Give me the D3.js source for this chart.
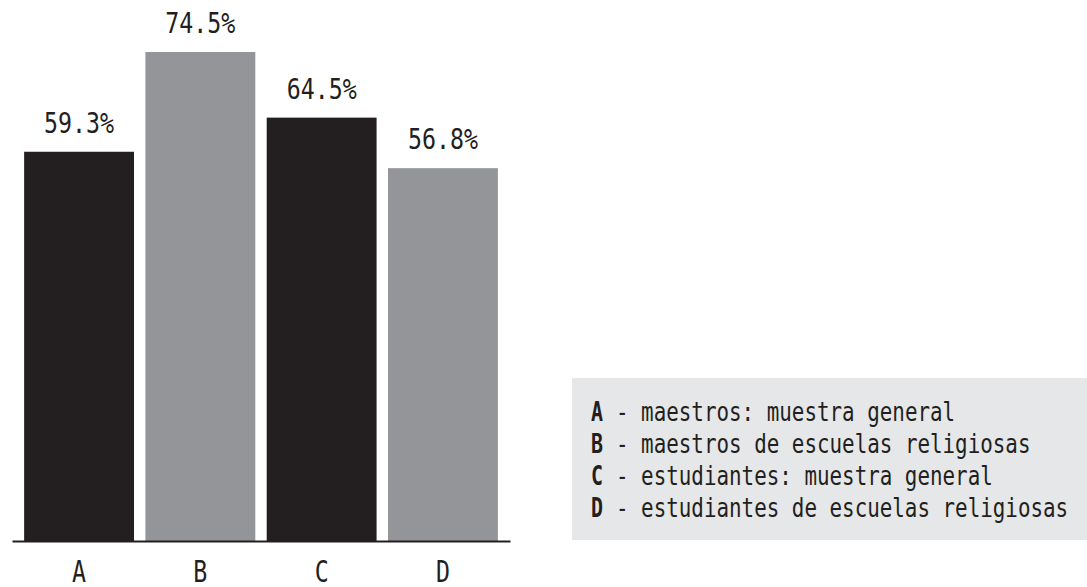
<!DOCTYPE html>
<html>
<head>
<meta charset="utf-8">
<script src="https://cdn.jsdelivr.net/npm/d3@7"></script>
<style>
  html, body { margin: 0; padding: 0; background: #ffffff; overflow: hidden; }
  svg { display: block; }
  text { font-family: "DejaVu Sans Mono", monospace; fill: #231f20; }
</style>
</head>
<body>
<svg id="chart" width="1087" height="587"></svg>
<script>
// ---- data ----
const categories = ["A", "B", "C", "D"];
const values = [59.3, 74.5, 64.5, 56.8];
const valueLabels = ["59.3%", "74.5%", "64.5%", "56.8%"];
const barColors = ["#231f20", "#939598", "#231f20", "#939598"];
const legendKeys = ["A", "B", "C", "D"];
const legendTexts = [
  "- maestros: muestra general",
  "- maestros de escuelas religiosas",
  "- estudiantes: muestra general",
  "- estudiantes de escuelas religiosas"
];

// ---- layout ----
const svg = d3.select("#chart");
const baseY = 541;

const x = d3.scaleBand()
  .domain(categories)
  .range([12, 510])
  .paddingInner(0.094)
  .paddingOuter(0.1);

const y = d3.scaleLinear()
  .domain([0, 82.42])
  .range([baseY, 0]);

// bars
svg.append("g").selectAll("rect")
  .data(categories)
  .join("rect")
  .attr("x", d => x(d))
  .attr("width", x.bandwidth())
  .attr("y", (d, i) => y(values[i]))
  .attr("height", (d, i) => baseY - y(values[i]))
  .attr("fill", (d, i) => barColors[i]);

// value labels
svg.append("g").selectAll("text")
  .data(categories)
  .join("text")
  .attr("x", d => x(d) + x.bandwidth() / 2)
  .attr("y", (d, i) => y(values[i]) - 19)
  .attr("text-anchor", "middle")
  .attr("font-size", 29)
  .attr("textLength", (d, i) => valueLabels[i].length * 14)
  .attr("lengthAdjust", "spacingAndGlyphs")
  .text((d, i) => valueLabels[i]);

// x axis
const axis = svg.append("g")
  .attr("transform", `translate(0,${baseY})`)
  .call(d3.axisBottom(x).tickSize(0).tickSizeOuter(0));
axis.select(".domain")
  .attr("stroke", "#231f20")
  .attr("stroke-width", 2);
axis.selectAll(".tick text")
  .attr("y", 41)
  .attr("dy", 0)
  .attr("font-size", 30)
  .attr("font-family", "DejaVu Sans Mono, monospace")
  .attr("fill", "#231f20")
  .attr("textLength", 14)
  .attr("lengthAdjust", "spacingAndGlyphs");

// legend
const lg = svg.append("g");
lg.append("rect")
  .attr("x", 572).attr("y", 378)
  .attr("width", 1087 - 572).attr("height", 540 - 378)
  .attr("fill", "#e6e7e8");

const charW = 12.56;
legendKeys.forEach((k, i) => {
  lg.append("text")
    .attr("x", 591)
    .attr("y", 421 + i * 32)
    .attr("font-size", 26)
    .attr("font-weight", "bold")
    .attr("textLength", 12)
    .attr("lengthAdjust", "spacingAndGlyphs")
    .text(k);
  lg.append("text")
    .attr("x", 616)
    .attr("y", 421 + i * 32)
    .attr("font-size", 26)
    .attr("textLength", legendTexts[i].length * charW)
    .attr("lengthAdjust", "spacingAndGlyphs")
    .text(legendTexts[i]);
});
</script>
</body>
</html>
